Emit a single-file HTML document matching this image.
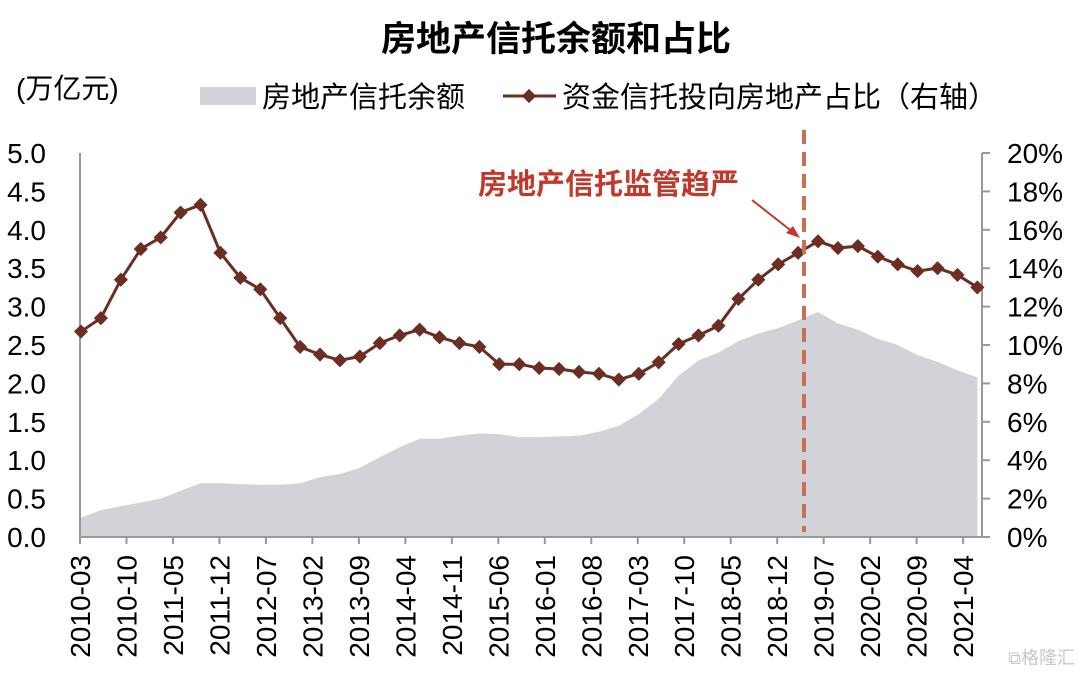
<!DOCTYPE html>
<html><head><meta charset="utf-8"><style>
body{margin:0;background:#fff;}
svg{display:block;font-family:"Liberation Sans","Noto Sans CJK SC",sans-serif;}
</style></head><body>
<svg width="1080" height="676" id="c">
<text x="556" y="51" text-anchor="middle" font-size="35" font-weight="bold" fill="#000">房地产信托余额和占比</text>
<text x="16" y="98" font-size="28" fill="#000">(万亿元)</text>
<rect x="200" y="87" width="56" height="18" fill="#d1d3d9"/>
<text x="262" y="107" font-size="29" fill="#000">房地产信托余额</text>
<line x1="503" y1="96" x2="556" y2="96" stroke="#6b2e22" stroke-width="3"/>
<rect x="524" y="91" width="10" height="10" fill="#6b2e22" transform="rotate(45 529 96)"/>
<text x="562" y="107" font-size="29" fill="#000">资金信托投向房地产占比（右轴）</text>
<g id="plot"></g>
<line x1="804" y1="130" x2="804" y2="532" stroke="#c87050" stroke-width="4" stroke-dasharray="14,8"/>
<text x="478" y="194" font-size="29" font-weight="bold" fill="#c0392b">房地产信托监管趋严</text>
<line x1="752" y1="200" x2="794" y2="233" stroke="#c0392b" stroke-width="2"/>
<polygon points="800,238 786,233 793,226" fill="#c0392b"/>
<text x="1075" y="664" text-anchor="end" font-size="18" fill="#c8c8c8">⧉格隆汇</text>
</svg>
<script>
const months=[];for(let i=0;i<46;i++)months.push(i*3);
const balance=[0.25,0.35,0.4,0.45,0.5,0.6,0.7,0.7,0.69,0.68,0.68,0.7,0.78,0.82,0.9,1.04,1.17,1.28,1.28,1.32,1.35,1.34,1.3,1.3,1.31,1.32,1.37,1.45,1.6,1.8,2.1,2.3,2.4,2.55,2.65,2.72,2.82,2.93,2.78,2.7,2.58,2.5,2.37,2.28,2.17,2.08];
const share=[10.7,11.4,13.4,15.0,15.6,16.9,17.3,14.8,13.5,12.9,11.4,9.9,9.5,9.2,9.4,10.1,10.5,10.8,10.4,10.1,9.9,9.0,9.0,8.8,8.75,8.6,8.5,8.2,8.5,9.1,10.05,10.5,11.0,12.4,13.4,14.2,14.8,15.4,15.05,15.15,14.6,14.2,13.85,14.0,13.65,13.0];
const leftTicks=["0.0","0.5","1.0","1.5","2.0","2.5","3.0","3.5","4.0","4.5","5.0"];
const rightTicks=["0%","2%","4%","6%","8%","10%","12%","14%","16%","18%","20%"];
const xLabels=["2010-03","2010-10","2011-05","2011-12","2012-07","2013-02","2013-09","2014-04","2014-11","2015-06","2016-01","2016-08","2017-03","2017-10","2018-05","2018-12","2019-07","2020-02","2020-09","2021-04"];
const NS="http://www.w3.org/2000/svg";
const g=document.getElementById('plot');
const x=m=>81+m*6.64, yL=v=>537-v*76.8, yR=p=>537-p*19.2;
function mk(t,a){const e=document.createElementNS(NS,t);for(const k in a)e.setAttribute(k,a[k]);g.appendChild(e);return e;}
let d='M'+x(months[0])+','+yL(0);
balance.forEach((v,i)=>d+='L'+x(months[i])+','+yL(v));
d+='L'+x(months[months.length-1])+','+yL(0)+'Z';
let area=mk('path',{d:d,fill:'#d1d3d9'});


let ax=mk('path',{d:'M80,153V537H982V153',fill:'none',stroke:'#999',"stroke-width":2});


leftTicks.forEach((t,i)=>{let e=mk('text',{x:46,y:yL(i*0.5)+10,"text-anchor":"end","font-size":28});e.textContent=t;

});
rightTicks.forEach((t,i)=>{
let tk=mk('line',{x1:982,y1:yR(i*2),x2:990,y2:yR(i*2),stroke:'#999',"stroke-width":2});


let e=mk('text',{x:1007,y:yR(i*2)+10,"font-size":28});e.textContent=t;

});
xLabels.forEach((t,i)=>{const xx=80+i*7*6.64;
let tk=mk('line',{x1:xx,y1:537,x2:xx,y2:544,stroke:'#999',"stroke-width":2});


let e=mk('text',{x:0,y:0,"text-anchor":"end","font-size":28,transform:`translate(${xx+10},555) rotate(-90)`});e.textContent=t;

});
let pts=share.map((p,i)=>x(months[i])+','+yR(p)).join(' ');
let ln=mk('polyline',{points:pts,fill:'none',stroke:'#6b2e22',"stroke-width":3});


share.forEach((p,i)=>{const cx=x(months[i]),cy=yR(p);
let r=mk('rect',{x:cx-5,y:cy-5,width:10,height:10,fill:'#6b2e22',transform:`rotate(45 ${cx} ${cy})`});

});
</script>
</body></html>
